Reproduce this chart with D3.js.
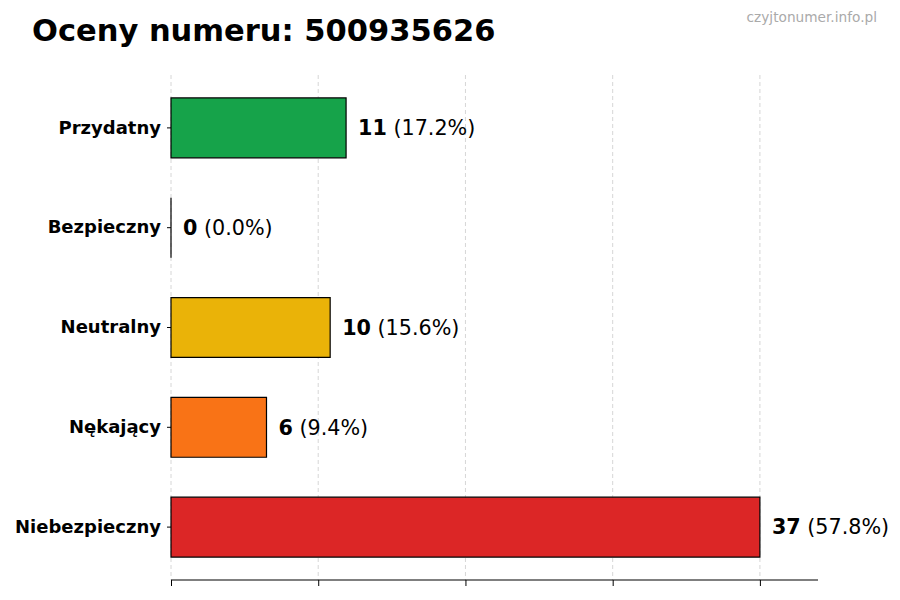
<!DOCTYPE html>
<html>
<head>
<meta charset="utf-8">
<script src="https://cdn.jsdelivr.net/npm/d3@7"></script>
<style>
  body { margin: 0; background: #fff; }
  svg { display: block; font-family: "DejaVu Sans", sans-serif; }
</style>
</head>
<body>
<svg id="chart" width="900" height="600"></svg>
<script>
const categories = ["Przydatny", "Bezpieczny", "Neutralny", "Nękający", "Niebezpieczny"];
const values = [11, 0, 10, 6, 37];
const percents = ["17.2%", "0.0%", "15.6%", "9.4%", "57.8%"];
const colors = ["#16a34a", "#22c55e", "#eab308", "#f97316", "#dc2626"];
const tickValues = [0, 9.25, 18.5, 27.75, 37];
const titleText = "Oceny numeru: 500935626";
const watermark = "czyjtonumer.info.pl";

const svg = d3.select("#chart");
const mLeft = 171, mRight = 818, mTop = 75, mBottom = 580;

const x = d3.scaleLinear().domain([0, 40.65]).range([mLeft, mRight]);
const y = d3.scaleBand().domain(categories).range([mTop, mBottom]).paddingInner(0.4).paddingOuter(0.23);

// grid
svg.append("g").selectAll("line").data(tickValues).join("line")
  .attr("x1", d => x(d)).attr("x2", d => x(d))
  .attr("y1", mTop).attr("y2", mBottom)
  .attr("stroke", "#cccccc").attr("stroke-width", 0.8)
  .attr("stroke-dasharray", "4,3");

// bars (as paths so a zero-width bar still shows its outline)
svg.append("g").selectAll("path").data(categories).join("path")
  .attr("d", (d, i) => {
    const x0 = x(0), x1 = x(values[i]), y0 = y(d), y1 = y(d) + y.bandwidth();
    return `M${x0},${y0}H${x1}V${y1}H${x0}Z`;
  })
  .attr("fill", (d, i) => colors[i])
  .attr("stroke", "#000")
  .attr("stroke-width", 1.2);

// value labels
const lbl = svg.append("g").selectAll("text").data(categories).join("text")
  .attr("x", (d, i) => x(values[i]) + 12)
  .attr("y", d => y(d) + y.bandwidth() / 2)
  .attr("dy", "0.35em")
  .attr("font-size", 20.7)
  .attr("fill", "#000");
lbl.append("tspan").attr("font-weight", "bold").text((d, i) => values[i]);
lbl.append("tspan").text((d, i) => " (" + percents[i] + ")");

// x axis
const xAxis = d3.axisBottom(x).tickValues(tickValues).tickSize(6).tickFormat("");
const gx = svg.append("g").attr("transform", `translate(0,${mBottom})`).call(xAxis);
gx.select(".domain").attr("stroke", "#000").attr("stroke-width", 1.2).attr("d", `M${mLeft},0H${mRight}`);
gx.selectAll(".tick line").attr("stroke", "#000").attr("stroke-width", 1);

// y axis (ticks + labels, no spine)
const yAxis = d3.axisLeft(y).tickSize(4).tickPadding(6);
const gy = svg.append("g").attr("transform", `translate(${mLeft},0)`).call(yAxis);
gy.select(".domain").remove();
gy.selectAll(".tick line").attr("stroke", "#000");
gy.selectAll(".tick text")
  .attr("font-family", "DejaVu Sans, sans-serif")
  .attr("font-size", 18).attr("font-weight", "bold").attr("fill", "#000");

// title
svg.append("text").attr("x", 32).attr("y", 41)
  .attr("font-size", 30.5).attr("font-weight", "bold").attr("fill", "#000")
  .text(titleText);

svg.append("text").attr("x", 877).attr("y", 22)
  .attr("text-anchor", "end").attr("font-size", 13.7).attr("fill", "#aaaaaa")
  .text(watermark);
</script>
</body>
</html>
